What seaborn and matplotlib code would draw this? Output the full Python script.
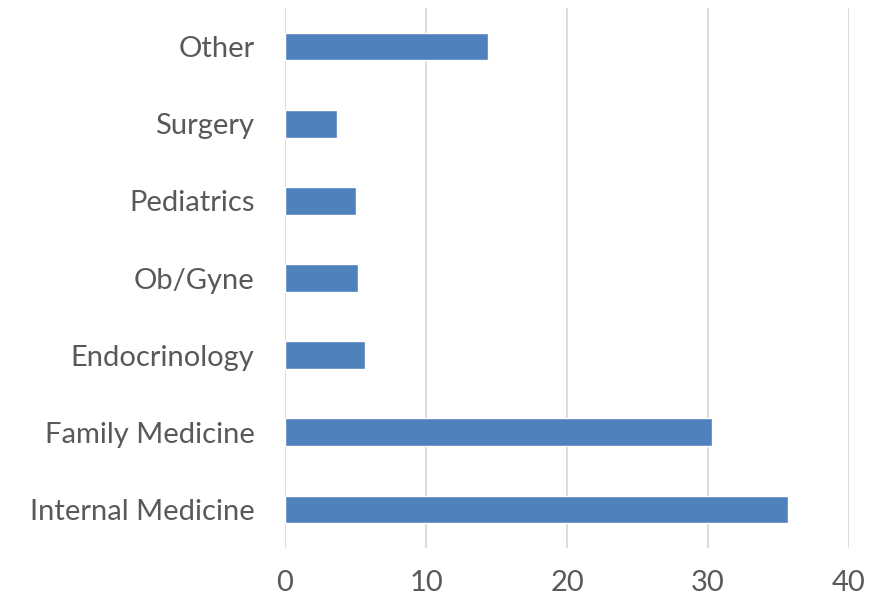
import matplotlib
matplotlib.use("Agg")
import matplotlib.pyplot as plt
import seaborn as sns
import pandas as pd

categories = ["Other", "Surgery", "Pediatrics", "Ob/Gyne", "Endocrinology",
              "Family Medicine", "Internal Medicine"]
values = [14.4, 3.7, 5.0, 5.2, 5.7, 30.3, 35.7]
xticks = [0, 10, 20, 30, 40]

sns.set_theme(style="white")
plt.rcParams['font.family'] = ['Lato', 'DejaVu Sans']

df = pd.DataFrame({"category": categories, "value": values})

fig = plt.figure(figsize=(8.77, 6.03), dpi=100)
ax = fig.add_axes([285/877, 1 - 548/603, (849-285)/877, (548-8)/603])

sns.barplot(data=df, x="value", y="category", order=categories, orient="h",
            color="#4F81BD", width=0.36, saturation=1, ax=ax, zorder=3)

ax.set_xlim(0, 40)
ax.set_ylim(6.5, -0.5)
ax.set_xticks(xticks)
ax.set_xticklabels([str(t) for t in xticks])
ax.grid(axis="x", color="#D9D9D9", linewidth=1.3, zorder=0)
ax.grid(axis="y", visible=False)
for s in ax.spines.values():
    s.set_visible(False)
ax.set_xlabel("")
ax.set_ylabel("")
ax.tick_params(axis="both", length=0, labelsize=21, colors="#595959")
ax.tick_params(axis="x", pad=16)
ax.tick_params(axis="y", pad=22)

fig.savefig("out.png", dpi=100)
